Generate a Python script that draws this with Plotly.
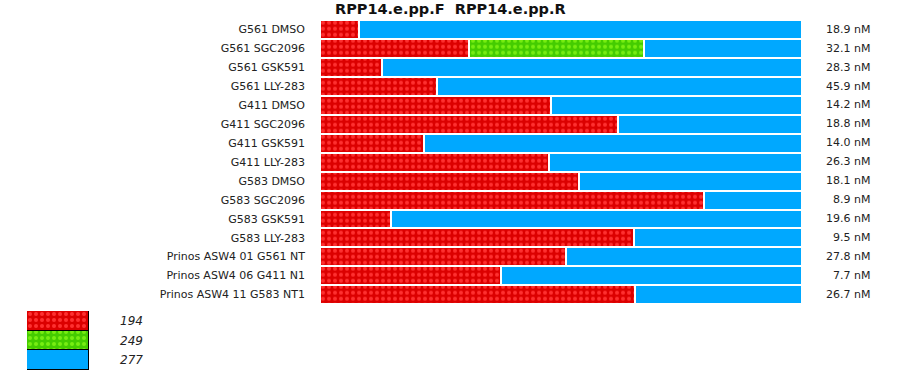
import plotly.graph_objects as go

samples = ["G561 DMSO", "G561 SGC2096", "G561 GSK591", "G561 LLY-283",
           "G411 DMSO", "G411 SGC2096", "G411 GSK591", "G411 LLY-283",
           "G583 DMSO", "G583 SGC2096", "G583 GSK591", "G583 LLY-283",
           "Prinos ASW4 01 G561 NT", "Prinos ASW4 06 G411 N1", "Prinos ASW4 11 G583 NT1"]
frac_194 = [8.1, 30.9, 12.9, 24.3, 47.9, 61.9, 21.5, 47.5, 53.8, 79.6, 14.8, 65.2, 51.0, 37.5, 65.4]
frac_249 = [0, 36.3, 0, 0, 0, 0, 0, 0, 0, 0, 0, 0, 0, 0, 0]
frac_277 = [round(100 - a - b, 1) for a, b in zip(frac_194, frac_249)]
conc_labels = ["18.9 nM", "32.1 nM", "28.3 nM", "45.9 nM", "14.2 nM", "18.8 nM", "14.0 nM",
               "26.3 nM", "18.1 nM", "8.9 nM", "19.6 nM", "9.5 nM", "27.8 nM", "7.7 nM", "26.7 nM"]
allele_names = ["194", "249", "277"]
title_text = "RPP14.e.pp.F  RPP14.e.pp.R"

W, H = 900, 375
FONT = "DejaVu Sans"

styles = {
    "194": dict(color="#dc0000", pattern=dict(shape=".", fgcolor="#ff3030", bgcolor="#dc0000", size=6, solidity=0.35, fillmode="replace")),
    "249": dict(color="#44cc00", pattern=dict(shape=".", fgcolor="#77ee11", bgcolor="#44cc00", size=6, solidity=0.35, fillmode="replace")),
    "277": dict(color="#00a8ff"),
}

fig = go.Figure()
for name, vals in zip(allele_names, [frac_194, frac_249, frac_277]):
    st = styles[name]
    marker = dict(color=st["color"], line=dict(color="white", width=2))
    if "pattern" in st:
        marker["pattern"] = st["pattern"]
    fig.add_trace(go.Bar(y=samples, x=vals, orientation="h", marker=marker,
                         name=name, showlegend=False, hoverinfo="skip",
                         xaxis="x", yaxis="y"))

# legend swatches drawn as bars on a small separate axis (numeric slots 0,1,2)
legend_slots = list(range(len(allele_names)))
for slot, name in zip(legend_slots, allele_names):
    st = styles[name]
    marker = dict(color=st["color"], line=dict(color="black", width=1.5))
    if "pattern" in st:
        marker["pattern"] = st["pattern"]
    fig.add_trace(go.Bar(y=[slot], x=[1], base=[0], width=[1], orientation="h", marker=marker,
                         showlegend=False, hoverinfo="skip", xaxis="x2", yaxis="y2"))

annotations = []
for s, lab in zip(samples, conc_labels):
    annotations.append(dict(x=872 / W, xref="paper", y=s, yref="y", text=lab,
                            showarrow=False, xanchor="right", yanchor="middle",
                            font=dict(family=FONT, size=11, color="#222")))
for slot, name in zip(legend_slots, allele_names):
    annotations.append(dict(x=118 / W, xref="paper", y=slot, yref="y2",
                            text="<i>%s</i>" % name, showarrow=False,
                            xanchor="left", yanchor="middle",
                            font=dict(family=FONT, size=12, color="#222")))
annotations.append(dict(x=450 / W, xref="paper", y=1 - 9 / H, yref="paper",
                        text="<b>%s</b>" % title_text, showarrow=False,
                        xanchor="center", yanchor="middle",
                        font=dict(family=FONT, size=14.5, color="#111")))

fig.update_layout(
    width=W, height=H,
    margin=dict(l=0, r=0, t=0, b=0),
    paper_bgcolor="white", plot_bgcolor="white",
    barmode="stack", bargap=0,
    font=dict(family=FONT, size=11, color="#222"),
    xaxis=dict(domain=[320 / W, 802 / W], range=[0, 100], visible=False, fixedrange=True),
    yaxis=dict(domain=[1 - 304 / H, 1 - 19.7 / H], autorange="reversed", type="category",
               showgrid=False, showline=False, zeroline=False, ticks="",
               ticklabelstandoff=14, tickfont=dict(family=FONT, size=11, color="#222")),
    xaxis2=dict(domain=[27 / W, 89 / W], range=[0, 1], visible=False, anchor="y2", type="linear"),
    yaxis2=dict(domain=[1 - 370 / H, 1 - 311 / H], range=[2.5, -0.5], type="linear",
                visible=False, anchor="x2"),
    annotations=annotations,
)

fig.write_html("out.html", config={"displayModeBar": False},
               post_script="document.body.style.margin='0';document.body.style.padding='0';")
